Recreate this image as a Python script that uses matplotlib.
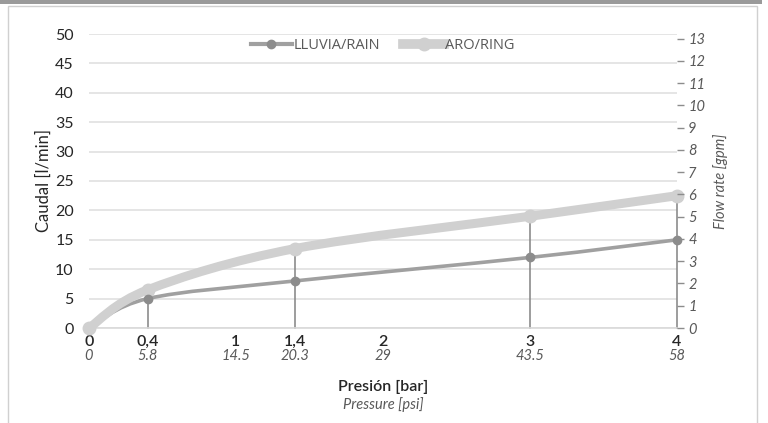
import numpy as np
import matplotlib.pyplot as plt
from matplotlib.path import Path
from matplotlib.patches import PathPatch, Rectangle
from matplotlib.lines import Line2D
import matplotlib.transforms as mtransforms

# data
pressure_bar = [0, 0.4, 1.4, 3, 4]
rain_lpm = [0, 5, 8, 12, 15]
ring_lpm = [0, 6.5, 13.5, 19, 22.5]
bar_ticks = [0, 0.4, 1, 1.4, 2, 3, 4]
bar_labels = ["0", "0,4", "1", "1,4", "2", "3", "4"]
psi_labels = ["0", "5.8", "14.5", "20.3", "29", "43.5", "58"]
gpm_ticks = list(range(0, 14))

grey_dark = "#8c8c8c"
grey_rain = "#a0a0a0"
grey_ring = "#d0d0d0"
txt = "#262626"
txt_grey = "#595959"

plt.rcParams['font.family'] = ['Lato', 'DejaVu Sans']


def smooth_path(xs, ys):
    # Catmull-Rom style bezier through the points (like a "smoothed line")
    pts = np.column_stack([xs, ys]).astype(float)
    verts = [pts[0]]
    codes = [Path.MOVETO]
    n = len(pts)
    for i in range(n - 1):
        p0 = pts[i - 1] if i > 0 else pts[i]
        p1 = pts[i]
        p2 = pts[i + 1]
        p3 = pts[i + 2] if i + 2 < n else pts[i + 1]
        c1 = p1 + (p2 - p0) / 6.0
        c2 = p2 - (p3 - p1) / 6.0
        verts += [c1, c2, p2]
        codes += [Path.CURVE4] * 3
    return Path(verts, codes)


fig = plt.figure(figsize=(7.68, 4.23), dpi=100)
ax = fig.add_axes([89 / 768, 1 - 328 / 423, 588 / 768, 294 / 423])

# frame around the chart
fig.patches.append(Rectangle((0, 1 - 4 / 423), 762 / 768, 4 / 423, transform=fig.transFigure,
                             facecolor="#9a9a9a", edgecolor="none"))
fig.patches.append(Rectangle((8 / 768, -0.01), 749 / 768, 1 - 6 / 423 + 0.01, transform=fig.transFigure,
                             facecolor="none", edgecolor="#d0d0d0", lw=1))

ax.set_xlim(0, 4)
ax.set_ylim(0, 50)
ax.set_yticks(range(0, 51, 5))
ax.grid(axis="y", color="#e0e0e0", lw=1.2)
ax.set_axisbelow(True)
for s in ["top", "right", "left"]:
    ax.spines[s].set_visible(False)
ax.spines["bottom"].set_color("#d9d9d9")
ax.spines["bottom"].set_linewidth(1.2)
ax.tick_params(axis="y", length=0, pad=11, labelsize=11.5, labelcolor=txt)
ax.tick_params(axis="x", length=0, pad=5, labelsize=11.5, labelcolor=txt)
ax.set_xticks(bar_ticks)
ax.set_xticklabels(bar_labels)
for lab in ax.get_xticklabels():
    lab.set_fontweight("semibold")

# psi row under the bar labels
trans = mtransforms.blended_transform_factory(ax.transData, ax.transAxes)
for b, p in zip(bar_ticks, psi_labels):
    ax.text(b, -0.07, p, transform=trans, ha="center", va="top", fontsize=10.5,
            style="italic", color=txt_grey)

ax.set_ylabel("Caudal [l/min]", fontsize=12, color=txt, labelpad=2)
ax.text(0.5, -0.178, "Presión [bar]", transform=ax.transAxes, ha="center", va="top",
        fontsize=11.5, fontweight="semibold", color=txt)
ax.text(0.5, -0.236, "Pressure [psi]", transform=ax.transAxes, ha="center", va="top",
        fontsize=10.5, style="italic", color=txt_grey)

# high-low lines
for x, a, b in zip(pressure_bar, rain_lpm, ring_lpm):
    ax.plot([x, x], [0, max(a, b)], color=grey_dark, lw=1.2, zorder=2, clip_on=False)

# series
ax.add_patch(PathPatch(smooth_path(pressure_bar, rain_lpm), facecolor="none",
                       edgecolor=grey_rain, lw=2.6, capstyle="round", zorder=3, clip_on=False))
ax.add_patch(PathPatch(smooth_path(pressure_bar, ring_lpm), facecolor="none",
                       edgecolor=grey_ring, lw=6.5, capstyle="round", zorder=4, clip_on=False))
ax.plot(pressure_bar, ring_lpm, "o", color=grey_ring, ms=9, zorder=4, clip_on=False)
ax.plot(pressure_bar[1:], rain_lpm[1:], "o", color=grey_dark, ms=6, zorder=5, clip_on=False)

# right axis in gpm
ax2 = ax.twinx()
ax2.set_ylim(0, 50 / 3.785)
ax2.set_yticks(gpm_ticks)
for s in ax2.spines.values():
    s.set_visible(False)
ax2.tick_params(axis="y", length=5, width=1, color=grey_dark, pad=3, labelsize=10.5,
                labelcolor=txt_grey)
for lab in ax2.get_yticklabels():
    lab.set_style("italic")
ax2.set_ylabel("Flow rate [gpm]", fontsize=10.5, style="italic", color=txt_grey, labelpad=6)

# legend
handles = [Line2D([], [], color=grey_rain, lw=3, marker="o", ms=6, mfc=grey_dark, mec=grey_dark),
           Line2D([], [], color=grey_ring, lw=7, marker="o", ms=9, mfc=grey_ring, mec=grey_ring)]
leg = ax.legend(handles, ["LLUVIA/RAIN", "ARO/RING"], loc="upper center", ncol=2, frameon=False,
                bbox_to_anchor=(0.5, 1.03), fontsize=10.5, handlelength=2.8, handletextpad=0.1,
                columnspacing=1.6)
for t in leg.get_texts():
    t.set_color(txt_grey)
    t.set_family(["Open Sans", "DejaVu Sans"])

fig.savefig("out.png", dpi=100)
